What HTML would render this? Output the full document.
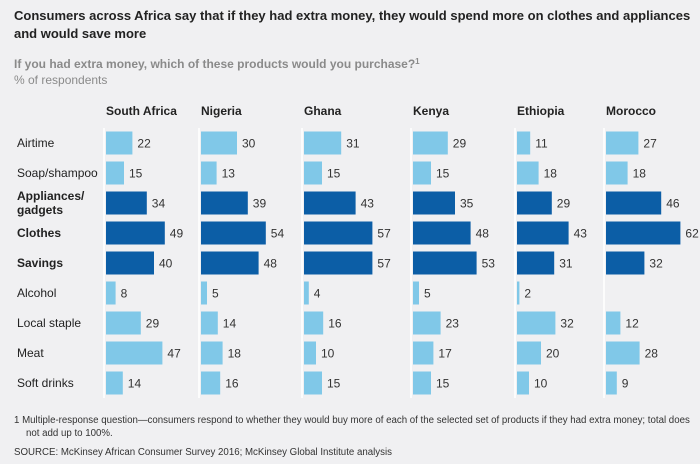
<!DOCTYPE html>
<html><head><meta charset="utf-8"><style>
body{margin:0;background:#f0f0f2;font-family:"Liberation Sans",Arial,sans-serif;}
svg{display:block}
</style></head><body>
<svg id="chart" width="700" height="464" xmlns="http://www.w3.org/2000/svg">
<rect width="700" height="464" fill="#f0f0f2"/>
<text x="14" y="20" font-size="13" font-weight="bold" fill="#222">Consumers across Africa say that if they had extra money, they would spend more on clothes and appliances</text>
<text x="14" y="38" font-size="13" font-weight="bold" fill="#222">and would save more</text>
<text x="14" y="68" font-size="12" font-weight="bold" fill="#8a8a8a">If you had extra money, which of these products would you purchase?<tspan font-size="8" dy="-4">1</tspan></text>
<text x="14" y="84" font-size="12" fill="#8a8a8a">% of respondents</text>
<g id="plot"></g>
<text x="14" y="423" font-size="9.7" fill="#333">1   Multiple-response question—consumers respond to whether they would buy more of each of the selected set of products if they had extra money; total does</text>
<text x="26" y="436" font-size="9.7" fill="#333">not add up to 100%.</text>
<text x="14" y="455" font-size="9.7" fill="#333">SOURCE:  McKinsey African Consumer Survey 2016; McKinsey Global Institute analysis</text>
</svg>
<script>
const countries=["South Africa","Nigeria","Ghana","Kenya","Ethiopia","Morocco"];
const categories=["Airtime","Soap/shampoo","Appliances/gadgets","Clothes","Savings","Alcohol","Local staple","Meat","Soft drinks"];
const highlighted=[false,false,true,true,true,false,false,false,false];
const southAfrica=[22,15,34,49,40,8,29,47,14];
const nigeria=[30,13,39,54,48,5,14,18,16];
const ghana=[31,15,43,57,57,4,16,10,15];
const kenya=[29,15,35,48,53,5,23,17,15];
const ethiopia=[11,18,29,43,31,2,32,20,10];
const morocco=[27,18,46,62,32,null,12,28,9];
const series=[southAfrica,nigeria,ghana,kenya,ethiopia,morocco];

const NS="http://www.w3.org/2000/svg";
const g=document.getElementById('plot');
const colX=[106,201,304,413,517,606];
const pxPerUnit=1.2;
const rowY=i=>143+i*30;
const xs=v=>v*pxPerUnit;
function mk(tag,attrs,txt){const e=document.createElementNS(NS,tag);for(const k in attrs)e.setAttribute(k,attrs[k]);if(txt!==undefined)e.textContent=txt;g.appendChild(e);return e;}
categories.forEach((c,i)=>{
  const bold=highlighted[i];
  if(c==="Appliances/gadgets"){
    const t=mk('text',{x:17,y:rowY(i)-3,'font-size':12,'font-weight':'bold',fill:'#222'},"Appliances/");
    
    const t2=mk('text',{x:17,y:rowY(i)+11,'font-size':12,'font-weight':'bold',fill:'#222'},"gadgets");
    
  } else {
    const t=mk('text',{x:17,y:rowY(i)+4,'font-size':12,'font-weight':bold?'bold':'normal',fill:'#222'},c);
    
  }
});
countries.forEach((cn,j)=>{
  const x0=colX[j];
  const sep=mk('line',{x1:x0-2,x2:x0-2,y1:128,y2:398,stroke:'#ffffff','stroke-width':1.5});
  
  const h=mk('text',{x:x0,y:115,'font-size':12,'font-weight':'bold',fill:'#222'},cn);
  
  series[j].forEach((v,i)=>{
    if(v===null)return;
    const w=xs(v);
    const r=mk('rect',{x:x0,y:rowY(i)-11.5,width:w,height:23,fill:highlighted[i]?'#0c5ea6':'#80c8e8'});
    
    const t=mk('text',{x:x0+w+5,y:rowY(i)+4.5,'font-size':12,fill:'#333'},String(v));
    
  });
});
</script>
</body></html>
